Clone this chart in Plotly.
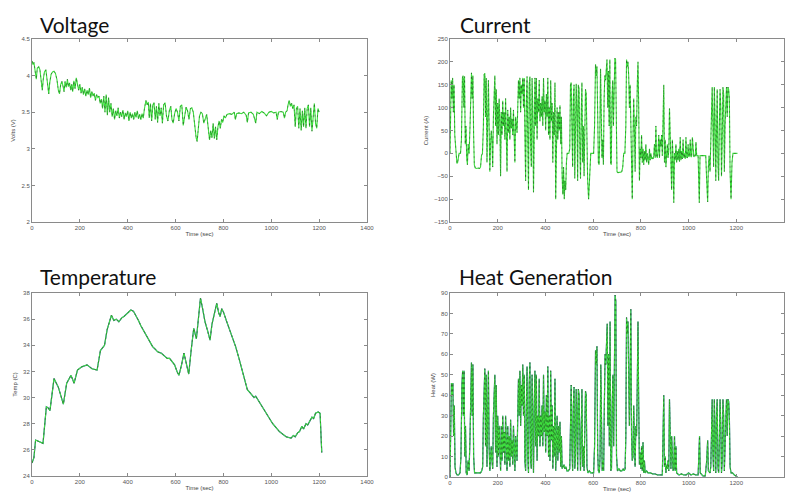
import plotly.graph_objects as go

# ---------------- data (time in s, value) ----------------
volt_pts = [
    (0, 4.20), (4, 4.15), (8, 4.18), (13, 4.05), (18, 3.95), (22, 4.10), (28, 4.12), (33, 4.08),
    (38, 3.90), (43, 3.80), (47, 3.95), (52, 4.05), (58, 4.08), (62, 3.98), (66, 3.85), (70, 3.75),
    (74, 3.90), (80, 4.02), (86, 4.05), (92, 4.06), (98, 4.03), (104, 3.95), (110, 3.80), (115, 3.75),
    (120, 3.88), (125, 3.92), (130, 3.85), (134, 3.78), (138, 3.92), (143, 3.84), (148, 3.95), (152, 3.85),
    (157, 3.90), (162, 3.80), (166, 3.88), (170, 3.78), (175, 3.93), (180, 3.82), (185, 3.97), (190, 3.86),
    (195, 3.80), (200, 3.88), (205, 3.76), (210, 3.84), (215, 3.74), (220, 3.82), (225, 3.72), (230, 3.80),
    (235, 3.74), (240, 3.83), (245, 3.70), (250, 3.78), (255, 3.72), (260, 3.76), (265, 3.66), (270, 3.74),
    (275, 3.70), (280, 3.72), (285, 3.62), (290, 3.68), (295, 3.55), (300, 3.72), (305, 3.50), (310, 3.74),
    (315, 3.46), (320, 3.70), (325, 3.50), (330, 3.62), (335, 3.44), (340, 3.55), (345, 3.40), (350, 3.52),
    (355, 3.45), (360, 3.56), (365, 3.42), (370, 3.50), (375, 3.44), (380, 3.53), (385, 3.40), (390, 3.49),
    (395, 3.44), (400, 3.52), (405, 3.38), (410, 3.50), (415, 3.42), (420, 3.48), (425, 3.40), (430, 3.50),
    (435, 3.43), (440, 3.52), (445, 3.41), (450, 3.47), (455, 3.40), (460, 3.48), (465, 3.42), (470, 3.55),
    (476, 3.66), (481, 3.60), (486, 3.64), (490, 3.42), (495, 3.62), (500, 3.38), (505, 3.60), (510, 3.63),
    (515, 3.40), (520, 3.58), (525, 3.36), (530, 3.62), (535, 3.45), (540, 3.56), (545, 3.35), (550, 3.60),
    (556, 3.63), (562, 3.45), (568, 3.38), (574, 3.52), (580, 3.58), (585, 3.40), (590, 3.35), (596, 3.48),
    (602, 3.55), (608, 3.50), (614, 3.38), (620, 3.58), (626, 3.60), (632, 3.32), (638, 3.45), (644, 3.57),
    (650, 3.52), (656, 3.40), (662, 3.55), (668, 3.56), (674, 3.50), (680, 3.30), (686, 3.15), (690, 3.10),
    (694, 3.22), (700, 3.45), (706, 3.50), (712, 3.48), (718, 3.35), (724, 3.40), (730, 3.47), (736, 3.30),
    (742, 3.12), (747, 3.25), (752, 3.15), (757, 3.35), (762, 3.14), (767, 3.30), (772, 3.12), (777, 3.30),
    (782, 3.38), (787, 3.28), (792, 3.40), (797, 3.36), (802, 3.45), (808, 3.42), (815, 3.47), (825, 3.48),
    (835, 3.47), (845, 3.50), (850, 3.40), (855, 3.48), (865, 3.49), (875, 3.48), (885, 3.50), (895, 3.46),
    (900, 3.36), (905, 3.49), (915, 3.50), (925, 3.47), (935, 3.35), (940, 3.50), (950, 3.48), (960, 3.51),
    (970, 3.49), (980, 3.45), (990, 3.50), (1000, 3.51), (1010, 3.49), (1020, 3.50), (1025, 3.40), (1030, 3.50),
    (1040, 3.51), (1050, 3.50), (1055, 3.42), (1060, 3.50), (1066, 3.52), (1070, 3.60), (1075, 3.66), (1080, 3.58),
    (1085, 3.62), (1090, 3.55), (1095, 3.60), (1100, 3.30), (1105, 3.55), (1110, 3.58), (1115, 3.28), (1120, 3.55),
    (1125, 3.25), (1130, 3.52), (1135, 3.30), (1140, 3.56), (1145, 3.28), (1150, 3.55), (1155, 3.60), (1160, 3.30),
    (1165, 3.56), (1170, 3.24), (1175, 3.50), (1180, 3.62), (1185, 3.35), (1190, 3.28), (1195, 3.55), (1200, 3.50),
]

curr_pts = [
    (0, 0), (2, 140), (5, 160), (8, 120), (11, 165), (14, 90), (17, 150), (20, 40), (23, 10), (26, -15),
    (29, -22), (32, -20), (35, -5), (38, 0), (44, 0), (48, 30), (52, 165), (55, 170), (58, 100), (61, 168),
    (64, 20), (67, 60), (70, -10), (73, -25), (76, 20), (80, 0), (84, 60), (87, 172), (90, 176), (93, 120),
    (96, 170), (99, 40), (102, -25), (106, -32), (112, -33), (118, -32), (124, -33), (128, -30), (132, -5), (136, 0),
    (140, 60), (143, 172), (146, 175), (149, 80), (152, 165), (155, -20), (158, 120), (161, 160), (164, 60), (167, -40),
    (170, 20), (173, 50), (176, 30), (179, -30), (182, 80), (185, 168), (188, 170), (191, 60), (194, 140), (197, 20),
    (200, 110), (203, 40), (206, 120), (209, 70), (212, -50), (215, 90), (218, 40), (221, 115), (224, 60), (227, 90),
    (230, 30), (233, 120), (236, 50), (239, -40), (242, 95), (245, 45), (248, 80), (251, 30), (254, 100), (257, 55),
    (260, 75), (263, 40), (266, 95), (269, 50), (272, -20), (275, 80), (278, 60), (281, 45), (284, 100), (287, 160),
    (290, 120), (293, 165), (296, 90), (299, 150), (302, 130), (305, 165), (308, 100), (311, 165), (314, 40), (317, -60),
    (320, 110), (323, 168), (326, 30), (329, -80), (332, 150), (335, 168), (338, 20), (341, -30), (344, 165), (347, 100),
    (350, -85), (353, 130), (356, 165), (359, 60), (362, 165), (365, 30), (368, 120), (371, 90), (374, 160), (377, 70),
    (380, 110), (383, 80), (386, 125), (389, 60), (392, 165), (395, 90), (398, 115), (401, 50), (404, 130), (407, 80),
    (410, 165), (413, 40), (416, 100), (419, 30), (422, 160), (425, 70), (428, 110), (431, -20), (434, 90), (437, 40),
    (440, 155), (443, -100), (446, 60), (449, 100), (452, 30), (455, 90), (458, 50), (461, 105), (464, 20), (467, 80),
    (470, -50), (473, -90), (476, -30), (479, -100), (482, -60), (485, -80), (488, -20), (491, 0), (498, 0), (502, 10),
    (505, 150), (508, 155), (511, 60), (514, -30), (517, 120), (520, 150), (523, -55), (526, 40), (529, 152), (532, 100),
    (535, -60), (538, 150), (541, 140), (544, 20), (547, -55), (550, 80), (553, 155), (556, -20), (559, 60), (562, -50),
    (565, 100), (568, 140), (571, 130), (574, 20), (577, -60), (581, -100), (584, -70), (587, -10), (590, 0), (602, 0),
    (606, 60), (610, 195), (613, 170), (616, 190), (619, 60), (622, -20), (625, -25), (628, 40), (631, 185), (634, 100),
    (637, -10), (640, 30), (643, -25), (646, 120), (649, 170), (652, 160), (655, 200), (658, 205), (661, 100), (664, 180),
    (667, 60), (670, 205), (673, -20), (676, -25), (679, 120), (682, 160), (685, 60), (688, 190), (691, 208), (694, 206),
    (697, 30), (700, -40), (704, -42), (710, -42), (716, -41), (720, -40), (724, -30), (728, 0), (733, 0), (737, 60),
    (740, 205), (743, 190), (746, 200), (749, 170), (752, 100), (755, 150), (758, 40), (761, -60), (764, -100), (767, 30),
    (770, 120), (773, 50), (776, -40), (779, 80), (782, 60), (785, 150), (788, 200), (791, 100), (794, -60), (797, 10),
    (800, -10), (803, 40), (806, -20), (809, 10), (812, -25), (815, 5), (818, -15), (821, 20), (824, -20), (827, 0),
    (830, -10), (833, -25), (836, 10), (839, -15), (842, 0), (845, -12), (848, -10), (851, -12), (854, -5), (857, 20),
    (860, -10), (863, 60), (866, -5), (869, -10), (872, 5), (875, 40), (878, -10), (881, 30), (884, 15), (887, 40),
    (890, -5), (893, 60), (896, 150), (899, -20), (902, 30), (905, -30), (908, 0), (911, 20), (914, -10), (917, 5),
    (920, 98), (923, 40), (926, -20), (929, -80), (932, 30), (935, -10), (938, -108), (941, 0), (944, -15), (947, 20),
    (950, -20), (953, 5), (956, -15), (959, 10), (962, -18), (965, 35), (968, -15), (971, 5), (974, -12), (977, 30),
    (980, -10), (983, 0), (986, -12), (989, 35), (992, -8), (995, -10), (998, 20), (1001, -8), (1004, -5), (1007, 30),
    (1010, -8), (1013, -6), (1016, 35), (1019, -5), (1022, -8), (1025, -5), (1028, -6), (1031, 25), (1034, -5), (1040, -5),
    (1045, -108), (1048, -5), (1054, -5), (1060, -4), (1066, -5), (1072, -5), (1076, -60), (1080, -106), (1083, -30), (1086, -5),
    (1090, -40), (1093, 20), (1096, 100), (1099, 145), (1102, 60), (1105, -30), (1108, 145), (1111, 80), (1114, -60), (1117, 120),
    (1120, 140), (1123, -20), (1126, -60), (1129, 60), (1132, 140), (1135, 100), (1138, -50), (1141, 30), (1144, 145), (1147, 130),
    (1150, -40), (1153, 60), (1156, 140), (1159, 145), (1162, 80), (1165, 145), (1168, 140), (1171, 120), (1174, -40), (1178, -100),
    (1182, -20), (1186, 0), (1205, 0),
]

temp_pts = [
    (0, 25.0), (8, 25.4), (15, 26.75), (30, 26.6), (46, 26.5), (60, 29.3), (68, 29.2), (75, 29.0), (92, 31.45),
    (110, 30.8), (131, 29.5), (145, 31.1), (163, 31.7), (176, 31.1), (190, 32.1), (208, 32.35), (230, 32.5),
    (251, 32.2), (272, 32.1), (286, 33.6), (296, 33.8), (303, 34.0), (314, 35.2), (325, 36.0), (332, 36.3),
    (342, 35.9), (352, 36.0), (363, 35.8), (375, 36.1), (384, 36.2), (400, 36.5), (413, 36.7), (424, 36.6),
    (434, 36.3), (445, 35.9), (455, 35.5), (470, 35.0), (483, 34.6), (495, 34.1), (504, 33.9), (515, 33.7),
    (525, 33.5), (540, 33.4), (553, 33.2), (565, 33.0), (575, 33.0), (585, 32.8), (596, 32.5), (606, 32.0),
    (614, 31.7), (625, 32.5), (635, 33.4), (645, 32.6), (655, 31.8), (665, 33.6), (676, 35.3), (687, 34.5),
    (697, 36.5), (704, 37.6), (713, 36.8), (723, 35.8), (734, 35.1), (744, 34.4), (752, 35.6), (761, 36.3),
    (772, 37.2), (780, 36.5), (786, 36.2), (793, 36.8), (801, 36.5), (812, 35.9), (822, 35.4), (836, 34.6),
    (851, 33.9), (865, 33.0), (879, 32.1), (890, 31.3), (900, 30.6), (910, 30.4), (921, 30.2), (928, 30.0),
    (935, 30.1), (945, 29.8), (956, 29.4), (966, 29.1), (977, 28.8), (990, 28.4), (1006, 28.0), (1020, 27.7),
    (1034, 27.4), (1048, 27.2), (1062, 27.0), (1072, 26.95), (1083, 26.9), (1092, 27.1), (1100, 27.0),
    (1110, 27.3), (1118, 27.4), (1128, 27.8), (1135, 27.6), (1145, 28.0), (1152, 27.9), (1161, 28.2),
    (1170, 28.5), (1177, 28.4), (1185, 28.8), (1196, 28.9), (1204, 28.8), (1208, 27.0), (1211, 25.8),
]

heat_pts = [
    (0, 0), (3, 30), (6, 46), (9, 40), (12, 46), (15, 20), (18, 35), (21, 5), (25, 2), (30, 1), (36, 1), (42, 2),
    (46, 10), (50, 45), (53, 52), (56, 30), (59, 52), (62, 10), (65, 25), (68, 2), (72, 1), (76, 8), (80, 3),
    (84, 20), (87, 54), (90, 56), (93, 30), (96, 55), (99, 10), (103, 2), (110, 2), (120, 2), (128, 2), (133, 3),
    (137, 5), (140, 30), (143, 52), (146, 53), (149, 15), (152, 50), (155, 5), (158, 40), (161, 52), (164, 15),
    (167, 3), (170, 10), (173, 15), (176, 8), (179, 4), (182, 30), (185, 50), (188, 50), (191, 12), (194, 45),
    (197, 5), (200, 30), (203, 10), (206, 25), (209, 15), (212, 3), (215, 25), (218, 8), (221, 30), (224, 12),
    (227, 22), (230, 6), (233, 30), (236, 10), (239, 3), (242, 25), (245, 8), (248, 20), (251, 5), (254, 28),
    (257, 10), (260, 18), (263, 6), (266, 25), (269, 8), (272, 3), (275, 20), (278, 12), (281, 8), (284, 30),
    (287, 48), (290, 30), (293, 52), (296, 25), (299, 45), (302, 35), (305, 55), (308, 30), (311, 50), (314, 8),
    (317, 3), (320, 35), (323, 54), (326, 10), (329, 2), (332, 45), (335, 56), (338, 8), (341, 4), (344, 50),
    (347, 30), (350, 2), (353, 35), (356, 52), (359, 15), (362, 50), (365, 8), (368, 30), (371, 20), (374, 48),
    (377, 15), (380, 30), (383, 20), (386, 35), (389, 15), (392, 50), (395, 22), (398, 32), (401, 12), (404, 40),
    (407, 20), (410, 54), (413, 10), (416, 30), (419, 8), (422, 52), (425, 18), (428, 35), (431, 4), (434, 25),
    (437, 10), (440, 48), (443, 3), (446, 15), (449, 30), (452, 8), (455, 25), (458, 12), (461, 27), (464, 5),
    (467, 20), (470, 4), (474, 5), (478, 6), (482, 4), (486, 5), (490, 3), (496, 3), (502, 4), (505, 43),
    (508, 45), (511, 15), (514, 3), (517, 35), (520, 44), (523, 4), (526, 10), (529, 43), (532, 30), (535, 3),
    (538, 43), (541, 40), (544, 8), (547, 3), (550, 20), (553, 43), (556, 5), (559, 15), (562, 3), (565, 30),
    (568, 42), (571, 40), (574, 5), (578, 2), (584, 3), (590, 2), (602, 2), (606, 15), (610, 62), (613, 55),
    (616, 64), (619, 12), (622, 3), (626, 2), (629, 10), (632, 55), (635, 25), (638, 3), (641, 8), (644, 3),
    (647, 35), (650, 60), (653, 55), (656, 73), (659, 75), (662, 25), (665, 60), (668, 15), (671, 76), (674, 3),
    (677, 4), (680, 35), (683, 50), (686, 15), (689, 80), (692, 89), (695, 86), (698, 10), (702, 3), (708, 4),
    (714, 3), (720, 3), (726, 4), (730, 3), (734, 4), (737, 20), (740, 78), (743, 70), (746, 76), (749, 55),
    (752, 25), (755, 50), (758, 82), (761, 20), (764, 8), (767, 10), (770, 35), (773, 15), (776, 5), (779, 25),
    (782, 20), (785, 45), (788, 76), (791, 35), (794, 6), (797, 12), (800, 4), (803, 15), (806, 3), (809, 17),
    (812, 2), (815, 8), (818, 2), (824, 3), (830, 2), (840, 2), (850, 1.5), (860, 1.5), (870, 1), (880, 1),
    (890, 1), (896, 40), (899, 5), (902, 10), (905, 2), (908, 6), (911, 4), (914, 8), (917, 3), (920, 38),
    (923, 12), (926, 4), (929, 20), (932, 8), (935, 3), (938, 4), (941, 20), (944, 3), (947, 15), (950, 2),
    (960, 1), (970, 1.5), (980, 1), (990, 1), (1000, 2), (1010, 1), (1020, 1.5), (1030, 1), (1040, 1),
    (1043, 10), (1046, 20), (1049, 2), (1060, 0.5), (1070, 0.5), (1076, 8), (1080, 18), (1083, 3), (1090, 2),
    (1093, 5), (1096, 20), (1099, 38), (1102, 12), (1105, 3), (1108, 38), (1111, 15), (1114, 2), (1117, 30),
    (1120, 38), (1123, 5), (1126, 2), (1129, 15), (1132, 38), (1135, 25), (1138, 2), (1141, 8), (1144, 38),
    (1147, 30), (1150, 3), (1153, 15), (1156, 35), (1159, 38), (1162, 20), (1165, 38), (1168, 37), (1171, 30),
    (1174, 5), (1178, 2), (1184, 2), (1192, 1), (1205, 0),
]

panel_titles = ["Voltage", "Current", "Temperature", "Heat Generation"]
y_titles = ["Volts (V)", "Current (A)", "Temp (C)", "Heat (W)"]
x_title = "Time (sec)"
x_ticks = [0, 200, 400, 600, 800, 1000, 1200, 1400]
y_ranges = [(2, 4.5, 0.5), (-150, 250, 50), (24, 38, 2), (0, 90, 10)]

# ---------------- figure ----------------
W, H = 787, 493
# plot-area boxes in pixels (left, right, top, bottom)
boxes = [(32, 367, 39, 222), (450, 784, 39, 222), (32, 367, 293, 476), (450, 784, 293, 477)]
title_pos = [(38, 24), (458, 24), (38, 276), (457, 276)]

fig = go.Figure()
series = [volt_pts, curr_pts, temp_pts, heat_pts]

for i, pts in enumerate(series):
    t = [p[0] for p in pts]
    v = [p[1] for p in pts]
    ax = "" if i == 0 else str(i + 1)
    if i >= 2:
        fig.add_trace(go.Scatter(x=t, y=v, mode="lines", xaxis="x" + ax, yaxis="y" + ax,
                                 line=dict(color="#4545c0", width=1.2), showlegend=False, hoverinfo="skip"))
    fig.add_trace(go.Scatter(x=t, y=v, mode="lines", xaxis="x" + ax, yaxis="y" + ax,
                             line=dict(color="#3ee03e", width=1.1), showlegend=False, hoverinfo="skip"))
    fig.add_trace(go.Scatter(x=t, y=v, mode="lines", xaxis="x" + ax, yaxis="y" + ax,
                             line=dict(color="rgba(20,20,20,0.6)", width=0.6, dash="2px,3px"),
                             showlegend=False, hoverinfo="skip"))

layout = dict(width=W, height=H, margin=dict(l=0, r=0, t=0, b=0),
              paper_bgcolor="white", plot_bgcolor="white", showlegend=False)

axis_common = dict(showline=True, linecolor="#8a8a8a", linewidth=1, mirror="ticks",
                   ticks="inside", ticklen=3, tickcolor="#8a8a8a", showgrid=False, zeroline=False,
                   tickfont=dict(family="Arial", size=6, color="#555"), automargin=False)

for i, (l, r, tp, bt) in enumerate(boxes):
    ax = "" if i == 0 else str(i + 1)
    y0, y1, dy = y_ranges[i]
    layout["xaxis" + ax] = dict(axis_common, domain=[l / W, r / W], range=[0, 1400],
                                tickvals=x_ticks, anchor="y" + ax,
                                title=dict(text=x_title, font=dict(family="Arial", size=6, color="#444"), standoff=1))
    layout["yaxis" + ax] = dict(axis_common, domain=[1 - bt / H, 1 - tp / H], range=[y0, y1],
                                dtick=dy, tick0=y0, anchor="x" + ax,
                                title=dict(text=y_titles[i], font=dict(family="Arial", size=6, color="#444"), standoff=5))

fig.update_layout(**layout)

for i, txt in enumerate(panel_titles):
    x, y = title_pos[i]
    fig.add_annotation(text=txt, xref="paper", yref="paper", x=x / W, y=1 - y / H,
                       xanchor="left", yanchor="middle", showarrow=False,
                       font=dict(family="Lato", size=21, color="#111"))

fig.write_html("out.html")
